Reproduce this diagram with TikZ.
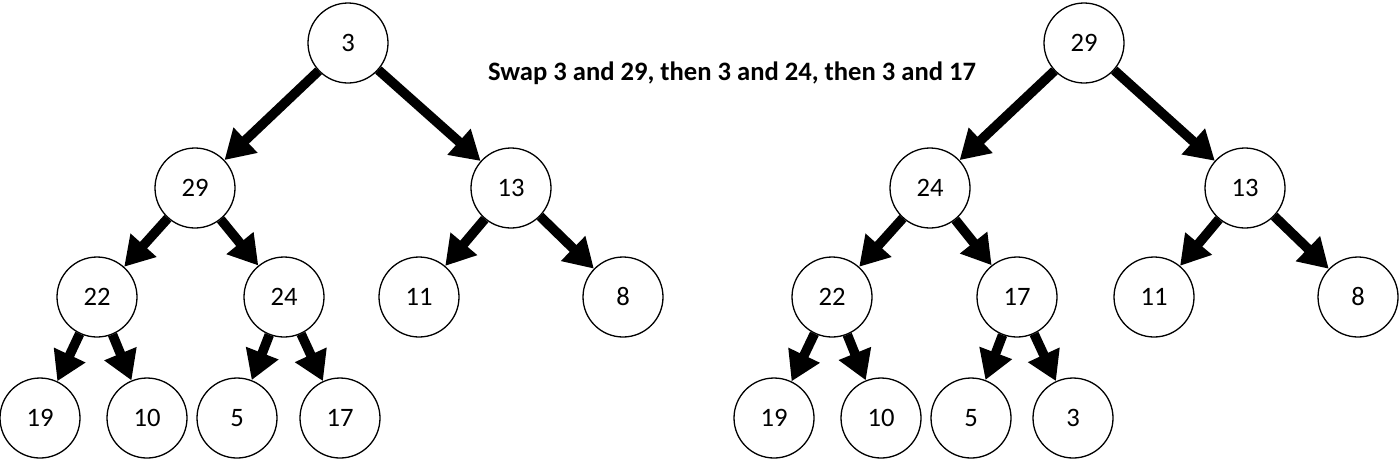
\documentclass[tikz,border=0pt]{standalone}
\usepackage{fontspec}
\setmainfont{Carlito}
\usetikzlibrary{arrows.meta}

\begin{document}
\begin{tikzpicture}
		[x=0.5pt, y=-0.5pt,
		heapnode/.style={draw, circle, minimum size=40pt, inner sep=0pt, line width=0.65pt, font=\fontsize{13.3}{15}\selectfont},
		link/.style={line width=4.8pt, -{Triangle[length=14.5pt, width=16.5pt]}}]
		\useasboundingbox (0, 0) rectangle (1400, 462);
		% before the swaps
		\node[heapnode] (l3) at (348, 43) {3};
		\node[heapnode] (l29) at (195, 188) {29};
		\node[heapnode] (l13) at (511, 188) {13};
		\node[heapnode] (l22) at (97, 297) {22};
		\node[heapnode] (l24) at (284, 297) {24};
		\node[heapnode] (l11) at (419, 297) {11};
		\node[heapnode] (l8) at (623, 297) {8};
		\node[heapnode] (l19) at (40, 418) {19};
		\node[heapnode] (l10) at (147, 418) {10};
		\node[heapnode] (l5) at (237, 418) {5};
		\node[heapnode] (l17) at (340, 418) {17};
		\draw[link] (l3) -- (l29);
		\draw[link] (l3) -- (l13);
		\draw[link] (l29) -- (l22);
		\draw[link] (l29) -- (l24);
		\draw[link] (l13) -- (l11);
		\draw[link] (l13) -- (l8);
		\draw[link] (l22) -- (l19);
		\draw[link] (l22) -- (l10);
		\draw[link] (l24) -- (l5);
		\draw[link] (l24) -- (l17);

		\node[font=\bfseries\fontsize{13.3}{15}\selectfont] (swap) at (732, 73) {Swap 3 and 29, then 3 and 24, then 3 and 17};

		% after the swaps
		\node[heapnode] (r29) at (1084, 43) {29};
		\node[heapnode] (r24) at (930, 188) {24};
		\node[heapnode] (r13) at (1245, 188) {13};
		\node[heapnode] (r22) at (832, 297) {22};
		\node[heapnode] (r17) at (1017, 297) {17};
		\node[heapnode] (r11) at (1154, 297) {11};
		\node[heapnode] (r8) at (1358, 297) {8};
		\node[heapnode] (r19) at (774, 418) {19};
		\node[heapnode] (r10) at (881, 418) {10};
		\node[heapnode] (r5) at (971, 418) {5};
		\node[heapnode] (r3) at (1073, 418) {3};
		\draw[link] (r29) -- (r24);
		\draw[link] (r29) -- (r13);
		\draw[link] (r24) -- (r22);
		\draw[link] (r24) -- (r17);
		\draw[link] (r13) -- (r11);
		\draw[link] (r13) -- (r8);
		\draw[link] (r22) -- (r19);
		\draw[link] (r22) -- (r10);
		\draw[link] (r17) -- (r5);
		\draw[link] (r17) -- (r3);
	\end{tikzpicture}
\end{document}
